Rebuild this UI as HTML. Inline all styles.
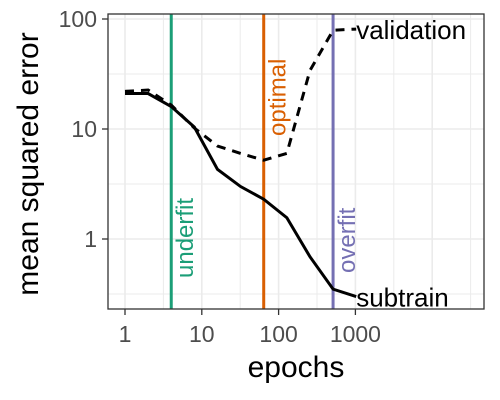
<!DOCTYPE html>
<html><head><meta charset="utf-8"><style>body{margin:0;background:#fff}svg{display:block;font-family:"Liberation Sans",sans-serif}</style></head>
<body>
<svg id="chart" width="500" height="400" viewBox="0 0 500 400">
<rect x="108" y="14" width="376" height="295" fill="#fff"/>
<g id="grid"></g>
<g id="vlines"></g>
<g id="series"></g>
<rect x="108" y="14" width="376" height="295" fill="none" stroke="#333" stroke-width="1.3"/>
<g id="axes"></g>
<text x="296" y="377" font-size="30" text-anchor="middle">epochs</text>
<text transform="translate(38,164) rotate(-90)" font-size="30" text-anchor="middle">mean squared error</text>
</svg>
<script>
const epochs=[1,2,4,8,16,32,64,128,256,512,1024];
const subtrain=[21,21,16,10.4,4.3,3.0,2.3,1.56,0.69,0.35,0.3];
const validation=[22,22.6,16.5,10.2,7,6,5.2,6,34,79,81];
const xTicks=[1,10,100,1000];
const yTicks=[1,10,100];
const markers=[{label:"underfit",epoch:4,color:"#1B9E77"},{label:"optimal",epoch:64,color:"#D95F02"},{label:"overfit",epoch:512,color:"#7570B3"}];
const NS="http://www.w3.org/2000/svg";
const X=e=>125+Math.log10(e)*76.8;
const Y=v=>239-Math.log10(v)*110;
function mk(p,t,a){const e=document.createElementNS(NS,t);for(const k in a)e.setAttribute(k,a[k]);document.getElementById(p).appendChild(e);return e;}
for(let d=-1;d<=4;d++){
 [1,Math.sqrt(10)].forEach((m,i)=>{const v=Math.pow(10,d)*m;const x=X(v);if(x>108&&x<484){const l=mk('grid','line',{x1:x,x2:x,y1:14,y2:309,stroke:'#ebebeb','stroke-width':i?1:1.6});}
 const y=Y(v);if(y>14&&y<309){const l=mk('grid','line',{x1:108,x2:484,y1:y,y2:y,stroke:'#ebebeb','stroke-width':i?1:1.6});}});
}
markers.forEach(m=>{const x=X(m.epoch);
 const l=mk('vlines','line',{x1:x,x2:x,y1:14,y2:309,stroke:m.color,'stroke-width':3});
 
 const yb=m.label==="optimal"?136:(m.label==="underfit"?278:273);
 const t=mk('vlines','text',{transform:`translate(${x+22},${yb}) rotate(-90)`,fill:m.color,'font-size':24});
 t.textContent=m.label;});
const pts=a=>a.map((v,i)=>X(epochs[i])+','+Y(v)).join(' ');
let p=mk('series','polyline',{points:pts(subtrain),fill:'none',stroke:'#000','stroke-width':3});

p=mk('series','polyline',{points:pts(validation),fill:'none',stroke:'#000','stroke-width':3,'stroke-dasharray':'9,7'});

let t=mk('series','text',{x:X(1024),y:Y(subtrain[10])+10,'font-size':26});t.textContent='subtrain';

t=mk('series','text',{x:X(1024),y:Y(validation[10])+10,'font-size':26});t.textContent='validation';

xTicks.forEach(v=>{const x=X(v);const l=mk('axes','line',{x1:x,x2:x,y1:309,y2:315,stroke:'#333','stroke-width':1.3});
 
 const s=mk('axes','text',{x:x,y:342,'font-size':23,fill:'#4d4d4d','text-anchor':'middle'});s.textContent=v;
 });
yTicks.forEach(v=>{const y=Y(v);const l=mk('axes','line',{x1:102,x2:108,y1:y,y2:y,stroke:'#333','stroke-width':1.3});
 
 const s=mk('axes','text',{x:97,y:y+8,'font-size':23,fill:'#4d4d4d','text-anchor':'end'});s.textContent=v;
 });
</script>
</body></html>
